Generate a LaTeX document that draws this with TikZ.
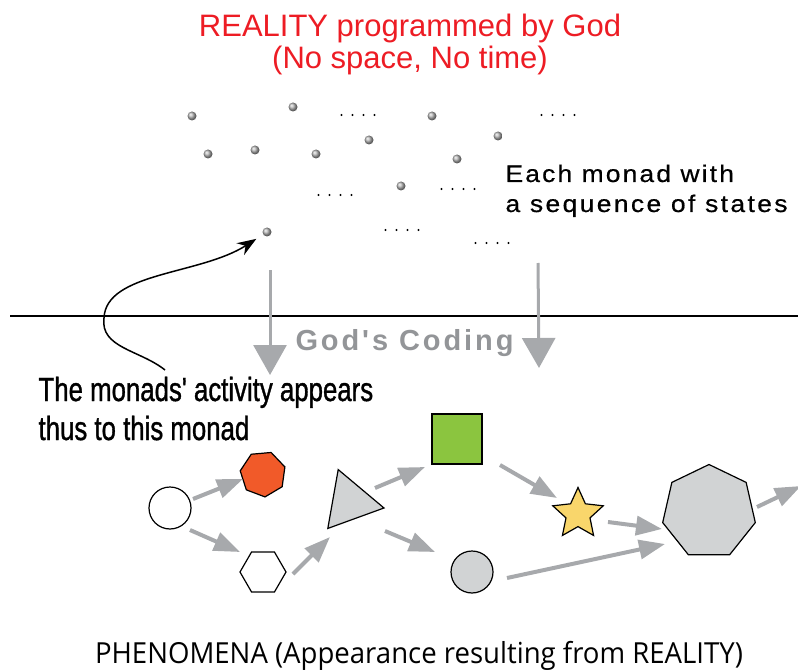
\documentclass[tikz,border=0pt]{standalone}
\usepackage{fontspec}
\setmainfont{Liberation Sans}[Ligatures=TeXOff]
\newfontfamily\phenfont{Open Sans}
\usetikzlibrary{arrows.meta,shapes.geometric,positioning}

\definecolor{godred}{HTML}{ED1C24}
\definecolor{flowgray}{HTML}{A7A9AC}
\definecolor{codegray}{HTML}{939598}
\definecolor{shapegray}{HTML}{D1D3D4}
\definecolor{monadorange}{HTML}{F15A29}
\definecolor{monadgreen}{HTML}{8BC53F}
\definecolor{monadyellow}{HTML}{F9D66B}

\tikzset{
    monad/.style={circle, inner sep=0pt, minimum size=9pt, shading=ball, ball color=gray!60},
    flow/.style={draw=flowgray, line width=4pt, -{Triangle[length=26pt,width=19pt]}},
    coding/.style={draw=flowgray, line width=3pt, -{Triangle[length=30pt,width=33pt]}},
    form/.style={draw=black, line width=1.2pt, inner sep=0pt},
}

\begin{document}
\begin{tikzpicture}[x=1pt, y=-1pt]
    \useasboundingbox (0,0) rectangle (798,671);
    \clip (0,0) rectangle (798,671);

    % Reality
    \node[text=godred, font=\fontsize{31}{33}\selectfont, anchor=base] (title) at (410,37) {REALITY programmed by God};
    \node[text=godred, font=\fontsize{31}{33}\selectfont, anchor=base] (subtitle) at (410,69) {(No space, No time)};

    % Monads
    \foreach \n/\x/\y in {1/192/116, 2/293/107, 3/432/116, 4/498/136, 5/208/154, 6/255/150,
                          7/316/154, 8/369/140, 9/457/159, 10/401/186, 11/267/232} {
        \node[monad] (m\n) at (\x,\y) {};
    }

    % Dots between monads
    \foreach \x/\y in {358/115, 558/115, 335/195, 458/189, 402/230, 492/243} {
        \foreach \k in {-1.5,-0.5,0.5,1.5} {
            \fill (\x+\k*11,\y) circle (1.2);
        }
    }

    \node[font=\fontsize{24}{28}\selectfont\addfontfeature{LetterSpace=9,FakeStretch=1.1,FakeBold=0.6}, anchor=base west] (each1) at (502,182) {Each monad with};
    \node[font=\fontsize{24}{28}\selectfont\addfontfeature{LetterSpace=10,FakeStretch=1.1,FakeBold=0.6}, anchor=base west] (each2) at (502,212) {a sequence of states};

    % Border between reality and phenomena
    \draw[line width=1.2pt] (10,316) -- (798,316);

    % God's coding
    \coordinate (d1) at (270,270);
    \coordinate (d1e) at (270,375);
    \coordinate (d2) at (538,263);
    \coordinate (d2e) at (539,368);
    \draw[coding] (d1) -- (d1e);
    \draw[coding] (d2) -- (d2e);
    \node[text=codegray, font=\bfseries\fontsize{29}{32}\selectfont\addfontfeature{LetterSpace=10}, anchor=base west] (coding) at (292,350) {God's Coding};

    % This monad
    \node[font=\fontsize{33.5}{36}\selectfont\addfontfeature{FakeBold=1.2}, anchor=base west] (act1) at (35,401) {\scalebox{0.77}[1]{The monads' activity appears}};
    \node[font=\fontsize{33.5}{36}\selectfont\addfontfeature{FakeBold=1.2}, anchor=base west] (act2) at (35,440) {\scalebox{0.77}[1]{thus to this monad}};
    \coordinate (actstart) at (165,370);
    \draw[line width=1.5pt, -{Stealth[length=19pt,width=14pt]}, shorten >=8pt]
        (actstart) .. controls (140,350) and (100,348) .. (104,318)
        .. controls (106,272) and (200,275) .. (m11);

    % Phenomena
    \node[form, circle, fill=white, minimum size=42pt] (c1) at (170,508) {};
    \node[form, regular polygon, regular polygon sides=7, fill=monadorange, minimum size=46pt, shape border rotate=185] (hep) at (263,474) {};
    \node[form, regular polygon, regular polygon sides=6, fill=white, minimum size=46pt] (hex) at (263,572) {};
    \node[form, regular polygon, regular polygon sides=3, fill=shapegray, minimum size=69pt, shape border rotate=-100] (tri) at (350,502) {};
    \node[form, rectangle, fill=monadgreen, minimum size=50pt] (sq) at (457,439) {};
    \node[form, circle, fill=shapegray, minimum size=42pt] (gc) at (472,572) {};
    \node[form, star, star points=5, star point ratio=2.1, fill=monadyellow, minimum size=53pt] (star) at (578,514) {};
    \node[form, regular polygon, regular polygon sides=7, fill=shapegray, minimum size=95pt] (hepbig) at (709,512) {};
    \coordinate (exit) at (801,486);

    \draw[flow] ([shift={(23,-9)}]c1.center) -- ([shift={(-20,5)}]hep.center);
    \draw[flow] ([shift={(20,22)}]c1.center) -- ([shift={(-23,-20)}]hex.center);
    \draw[flow] ([shift={(30,2)}]hex.center) -- ([shift={(-20,35)}]tri.center);
    \draw[flow] ([shift={(25,-14)}]tri.center) -- ([shift={(-32,28)}]sq.center);
    \draw[flow] ([shift={(35,29)}]tri.center) -- ([shift={(-37,-20)}]gc.center);
    \draw[flow] ([shift={(43,26)}]sq.center) -- ([shift={(-21,-16)}]star.center);
    \draw[flow] ([shift={(30,8)}]star.center) -- ([shift={(-47,17)}]hepbig.center);
    \draw[flow] ([shift={(35,6)}]gc.center) -- ([shift={(-44,32)}]hepbig.center);
    \draw[flow] ([shift={(48,-5)}]hepbig.center) -- (exit);

    \node[font=\phenfont\fontsize{29}{34}\selectfont, anchor=base, inner sep=0pt] (phen) at (419,663) {\scalebox{0.95}[1]{PHENOMENA (Appearance resulting from REALITY)}};
\end{tikzpicture}
\end{document}
